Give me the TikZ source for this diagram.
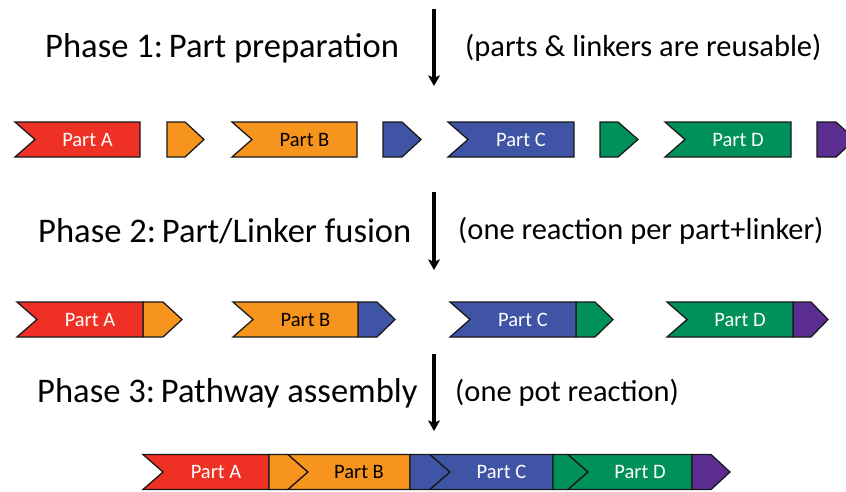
\documentclass[tikz,border=0pt]{standalone}
\usepackage{fontspec}
\setmainfont{Carlito}
\usepackage{xcolor}
\usetikzlibrary{arrows.meta}
\definecolor{partred}{HTML}{EE3124}
\definecolor{partorange}{HTML}{F7941D}
\definecolor{partblue}{HTML}{3F54A5}
\definecolor{partgreen}{HTML}{00915A}
\definecolor{partpurple}{HTML}{5B2D90}

\tikzset{
  partline/.style={draw=black!90,line width=1.1pt,line join=miter},
  partlabel/.style={inner sep=0pt,font=\fontsize{17.5}{17.5}\selectfont},
  phasetext/.style={anchor=west,inner sep=0pt,font=\fontsize{29.5}{29.5}\selectfont},
  notetext/.style={anchor=west,inner sep=0pt,font=\fontsize{26}{26}\selectfont},
  phasearrow/.style={line width=2.6pt,-{Stealth[length=9pt,width=10pt,inset=2pt]}}
}

% part with notched left end: left, right, mid y, fill, text colour, name, label
\newcommand{\dnapart}[7]{%
  \filldraw[partline,fill=#4] (#1,#3-17.5) -- (#2,#3-17.5) -- (#2,#3+17.5)
    -- (#1,#3+17.5) -- (#1+20,#3) -- cycle;
  \node[partlabel,text=#5] (#6) at ({(#1+20+#2)/2},#3) {#7};}

% linker with pointed right end: left, shoulder, tip, mid y, fill
\newcommand{\linker}[5]{%
  \filldraw[partline,fill=#5] (#1,#4-17.5) -- (#2,#4-17.5) -- (#3,#4)
    -- (#2,#4+17.5) -- (#1,#4+17.5) -- cycle;}

\begin{document}
\begin{tikzpicture}[x=0.03cm,y=-0.03cm]
  \useasboundingbox (0,0) rectangle (846,491);
  \clip (0,0) rectangle (846,491);

  % Phase 1
  \node[phasetext] (ph1) at (45,48) {Phase 1:\,Part preparation};
  \node[notetext] (nt1) at (465,48) {(parts \& linkers are reusable)};
  \coordinate (ar1s) at (434,9);
  \coordinate (ar1e) at (434,86);
  \draw[phasearrow] (ar1s) -- (ar1e);

  % separate parts and linkers
  \dnapart{15}{140}{139.5}{partred}{white}{a1}{Part A}
  \linker{167}{185}{204}{139.5}{partorange}
  \dnapart{232}{357}{139.5}{partorange}{black}{b1}{Part B}
  \linker{383}{402}{421}{139.5}{partblue}
  \dnapart{448}{574}{139.5}{partblue}{white}{c1}{Part C}
  \linker{600}{618}{638}{139.5}{partgreen}
  \dnapart{665}{791}{139.5}{partgreen}{white}{d1}{Part D}
  \linker{817}{836}{855}{139.5}{partpurple}

  % Phase 2
  \node[phasetext] (ph2) at (38,231) {Phase 2:\,Part/Linker fusion};
  \node[notetext] (nt2) at (458,231) {(one reaction per part+linker)};
  \coordinate (ar2s) at (434,192);
  \coordinate (ar2e) at (434,270);
  \draw[phasearrow] (ar2s) -- (ar2e);

  % fused part+linker pairs
  \linker{143}{163}{182}{319.5}{partorange}
  \dnapart{17}{143}{319.5}{partred}{white}{a2}{Part A}
  \linker{358}{377}{395}{319.5}{partblue}
  \dnapart{233}{358}{319.5}{partorange}{black}{b2}{Part B}
  \linker{576}{595}{613}{319.5}{partgreen}
  \dnapart{450}{576}{319.5}{partblue}{white}{c2}{Part C}
  \linker{793}{811}{828}{319.5}{partpurple}
  \dnapart{667}{793}{319.5}{partgreen}{white}{d2}{Part D}

  % Phase 3
  \node[phasetext] (ph3) at (37,393) {Phase 3:\,Pathway assembly};
  \node[notetext] (nt3) at (455,393) {(one pot reaction)};
  \coordinate (ar3s) at (434,354);
  \coordinate (ar3e) at (434,431);
  \draw[phasearrow] (ar3s) -- (ar3e);

  % assembled pathway
  \dnapart{143}{269}{472}{partred}{white}{a3}{Part A}
  \linker{269}{288}{308}{472}{partorange}
  \dnapart{288}{410}{472}{partorange}{black}{b3}{Part B}
  \linker{410}{430}{450}{472}{partblue}
  \dnapart{430}{553}{472}{partblue}{white}{c3}{Part C}
  \linker{553}{568}{588}{472}{partgreen}
  \dnapart{568}{692}{472}{partgreen}{white}{d3}{Part D}
  \linker{692}{711}{730}{472}{partpurple}
\end{tikzpicture}
\end{document}
